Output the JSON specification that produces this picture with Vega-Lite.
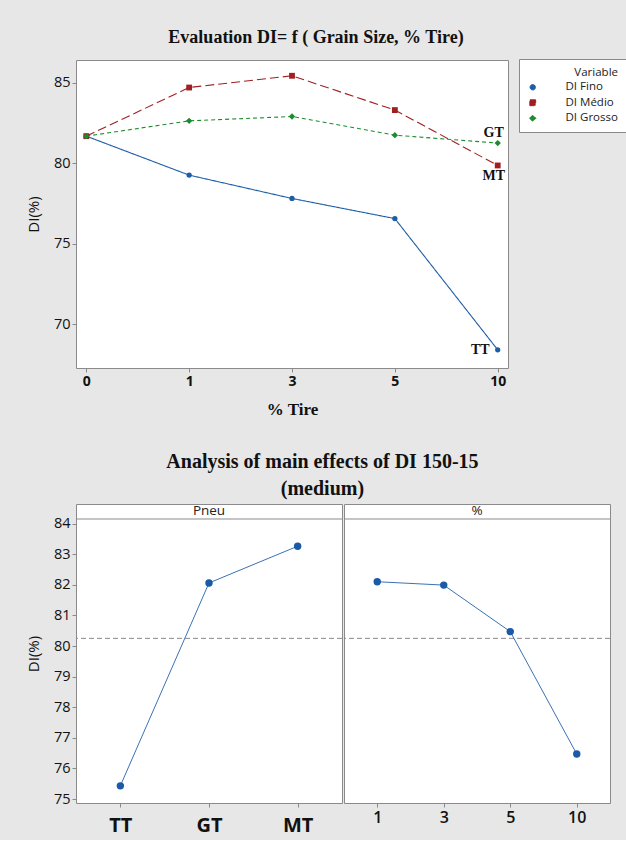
{
  "$schema": "https://vega.github.io/schema/vega-lite/v6.json",
  "background": "#e7e7e7",
  "padding": {"left": 25, "top": 28, "right": 3, "bottom": 4},
  "spacing": 33,
  "config": {
    "view": {"stroke": "#8a8a8a", "fill": "white"},
    "axis": {"grid": false, "domain": false, "tickColor": "#8a8a8a", "tickSize": 4, "labelColor": "#111", "titleColor": "#111", "labelFont": "Open Sans", "titleFont": "Open Sans", "labelOverlap": false}
  },
  "vconcat": [
    {
      "title": {"text": "Evaluation DI= f ( Grain Size, % Tire)", "font": "Liberation Serif", "fontSize": 18, "fontWeight": "bold", "frame": "group", "anchor": "middle", "dx": 24, "offset": 13, "color": "#111"},
      "width": 432,
      "height": 308,
      "data": {"values": [
        {"pct": 0, "Variable": "DI Fino", "DI": 81.67},
        {"pct": 1, "Variable": "DI Fino", "DI": 79.25},
        {"pct": 3, "Variable": "DI Fino", "DI": 77.8},
        {"pct": 5, "Variable": "DI Fino", "DI": 76.55},
        {"pct": 10, "Variable": "DI Fino", "DI": 68.4},
        {"pct": 0, "Variable": "DI Médio", "DI": 81.67},
        {"pct": 1, "Variable": "DI Médio", "DI": 84.69},
        {"pct": 3, "Variable": "DI Médio", "DI": 85.42},
        {"pct": 5, "Variable": "DI Médio", "DI": 83.29},
        {"pct": 10, "Variable": "DI Médio", "DI": 79.85},
        {"pct": 0, "Variable": "DI Grosso", "DI": 81.67},
        {"pct": 1, "Variable": "DI Grosso", "DI": 82.62},
        {"pct": 3, "Variable": "DI Grosso", "DI": 82.89},
        {"pct": 5, "Variable": "DI Grosso", "DI": 81.73},
        {"pct": 10, "Variable": "DI Grosso", "DI": 81.24}
      ]},
      "encoding": {
        "x": {"field": "pct", "type": "ordinal", "scale": {"type": "point", "padding": 0.1}, "axis": {"title": "% Tire", "labelAngle": 0, "labelFontSize": 14, "labelFontWeight": "bold", "labelPadding": 2, "titleFont": "Liberation Serif", "titleFontSize": 17, "titleFontWeight": "bold", "titlePadding": 13}},
        "y": {"field": "DI", "type": "quantitative", "scale": {"domain": [67.27, 86.4], "nice": false, "zero": false}, "axis": {"title": "DI(%)", "values": [70, 75, 80, 85], "labelFontSize": 14.5, "labelPadding": 2, "titleFontSize": 15, "titleFontWeight": "normal", "titlePadding": 12}}
      },
      "layer": [
        {
          "mark": {"type": "line", "strokeWidth": 1.1},
          "encoding": {
            "color": {"field": "Variable", "type": "nominal", "scale": {"domain": ["DI Fino", "DI Médio", "DI Grosso"], "range": ["#1d5ea8", "#a01f23", "#1c8c2f"]},
              "legend": {
                "title": "Variable", "orient": "none", "legendX": 443, "legendY": -1, "padding": 8,
                "strokeColor": "#8a8a8a", "fillColor": "white",
                "titleFont": "Open Sans", "titleFontSize": 11.5, "titleFontWeight": "normal", "titleColor": "#222", "titlePadding": 3, "titleAnchor": "end",
                "labelFont": "Open Sans", "labelFontSize": 11.5, "labelColor": "#222", "labelOffset": 27,
                "symbolSize": 50, "symbolStrokeWidth": 1, "rowPadding": 2.5
              }
            },
            "strokeDash": {"field": "Variable", "type": "nominal", "scale": {"domain": ["DI Fino", "DI Médio", "DI Grosso"], "range": [[1, 0], [9, 4], [4, 3]]}, "legend": null}
          }
        },
        {
          "mark": {"type": "point", "filled": true, "opacity": 1},
          "encoding": {
            "color": {"field": "Variable", "type": "nominal", "scale": {"domain": ["DI Fino", "DI Médio", "DI Grosso"], "range": ["#1d5ea8", "#a01f23", "#1c8c2f"]}, "legend": null},
            "shape": {"field": "Variable", "type": "nominal", "scale": {"domain": ["DI Fino", "DI Médio", "DI Grosso"], "range": ["circle", "square", "diamond"]}, "legend": null},
            "size": {"field": "Variable", "type": "nominal", "scale": {"domain": ["DI Fino", "DI Médio", "DI Grosso"], "range": [28, 40, 55]}, "legend": null}
          }
        },
        {
          "transform": [{"filter": "datum.pct === 10 && datum.Variable === 'DI Grosso'"}],
          "mark": {"type": "text", "font": "Liberation Serif", "fontSize": 14, "fontWeight": "bold", "color": "#111", "baseline": "middle", "align": "center", "dx": -4, "dy": -10},
          "encoding": {"text": {"value": "GT"}}
        },
        {
          "transform": [{"filter": "datum.pct === 10 && datum.Variable === 'DI Médio'"}],
          "mark": {"type": "text", "font": "Liberation Serif", "fontSize": 14, "fontWeight": "bold", "color": "#111", "baseline": "middle", "align": "center", "dx": -4, "dy": 11},
          "encoding": {"text": {"value": "MT"}}
        },
        {
          "transform": [{"filter": "datum.pct === 10 && datum.Variable === 'DI Fino'"}],
          "mark": {"type": "text", "font": "Liberation Serif", "fontSize": 14, "fontWeight": "bold", "color": "#111", "baseline": "middle", "align": "right", "dx": -8, "dy": 0},
          "encoding": {"text": {"value": "TT"}}
        }
      ]
    },
    {
      "title": {"text": ["Analysis of main effects of DI 150-15", "(medium)"], "font": "Liberation Serif", "fontSize": 20, "fontWeight": "bold", "lineHeight": 27, "anchor": "middle", "dx": 4, "offset": 5, "color": "#111"},
      "spacing": 0,
      "hconcat": [
        {
          "width": 266,
          "height": 299,
          "layer": [
            {"data": {"values": [{}]}, "mark": {"type": "rule", "color": "#8a8a8a", "strokeWidth": 1},
             "encoding": {"y": {"datum": 84.15, "type": "quantitative", "scale": {"domain": [74.87, 84.64], "nice": false, "zero": false}, "axis": {"title": "DI(%)", "values": [75, 76, 77, 78, 79, 80, 81, 82, 83, 84], "labelFontSize": 14.5, "labelPadding": 2, "titleFontSize": 15, "titleFontWeight": "normal", "titlePadding": 12, "labelOverlap": false}}}},
            {"data": {"values": [{}]}, "mark": {"type": "text", "font": "Open Sans", "fontSize": 13.5, "color": "#222", "baseline": "middle"},
             "encoding": {"y": {"datum": 84.4, "type": "quantitative", "axis": {"title": "DI(%)", "values": [75, 76, 77, 78, 79, 80, 81, 82, 83, 84], "labelFontSize": 14.5, "labelPadding": 2, "titleFontSize": 15, "titleFontWeight": "normal", "titlePadding": 12, "labelOverlap": false}}, "text": {"value": "Pneu"}}},
            {"data": {"values": [{}]}, "mark": {"type": "rule", "color": "#8a8a8a", "strokeWidth": 1, "strokeDash": [5, 3]},
             "encoding": {"y": {"datum": 80.25, "type": "quantitative", "axis": {"title": "DI(%)", "values": [75, 76, 77, 78, 79, 80, 81, 82, 83, 84], "labelFontSize": 14.5, "labelPadding": 2, "titleFontSize": 15, "titleFontWeight": "normal", "titlePadding": 12, "labelOverlap": false}}}},
            {"data": {"values": [{"Pneu": "TT", "DI": 75.43}, {"Pneu": "GT", "DI": 82.06}, {"Pneu": "MT", "DI": 83.26}]},
             "mark": {"type": "line", "color": "#3a72b5", "strokeWidth": 1},
             "encoding": {
               "x": {"field": "Pneu", "type": "nominal", "sort": ["TT", "GT", "MT"], "scale": {"type": "point", "padding": 0.5}, "axis": {"title": null, "labelAngle": 0, "labelFontSize": 20, "labelFontWeight": "bold", "labelPadding": 8}},
               "y": {"field": "DI", "type": "quantitative", "axis": {"title": "DI(%)", "values": [75, 76, 77, 78, 79, 80, 81, 82, 83, 84], "labelFontSize": 14.5, "labelPadding": 2, "titleFontSize": 15, "titleFontWeight": "normal", "titlePadding": 12, "labelOverlap": false}}
             }},
            {"data": {"values": [{"Pneu": "TT", "DI": 75.43}, {"Pneu": "GT", "DI": 82.06}, {"Pneu": "MT", "DI": 83.26}]},
             "mark": {"type": "point", "filled": true, "color": "#1a5aa6", "size": 55, "opacity": 1},
             "encoding": {
               "x": {"field": "Pneu", "type": "nominal", "sort": ["TT", "GT", "MT"]},
               "y": {"field": "DI", "type": "quantitative", "axis": {"title": "DI(%)", "values": [75, 76, 77, 78, 79, 80, 81, 82, 83, 84], "labelFontSize": 14.5, "labelPadding": 2, "titleFontSize": 15, "titleFontWeight": "normal", "titlePadding": 12, "labelOverlap": false}}
             }}
          ]
        },
        {
          "width": 266,
          "height": 299,
          "layer": [
            {"data": {"values": [{}]}, "mark": {"type": "rule", "color": "#8a8a8a", "strokeWidth": 1},
             "encoding": {"y": {"datum": 84.15, "type": "quantitative", "scale": {"domain": [74.87, 84.64], "nice": false, "zero": false}, "axis": null}}},
            {"data": {"values": [{}]}, "mark": {"type": "text", "font": "Open Sans", "fontSize": 13.5, "color": "#222", "baseline": "middle"},
             "encoding": {"y": {"datum": 84.4, "type": "quantitative", "axis": null}, "text": {"value": "%"}}},
            {"data": {"values": [{}]}, "mark": {"type": "rule", "color": "#8a8a8a", "strokeWidth": 1, "strokeDash": [5, 3]},
             "encoding": {"y": {"datum": 80.25, "type": "quantitative", "axis": null}}},
            {"data": {"values": [{"pct": 1, "DI": 82.1}, {"pct": 3, "DI": 81.99}, {"pct": 5, "DI": 80.47}, {"pct": 10, "DI": 76.47}]},
             "mark": {"type": "line", "color": "#3a72b5", "strokeWidth": 1},
             "encoding": {
               "x": {"field": "pct", "type": "ordinal", "scale": {"type": "point", "padding": 0.5}, "axis": {"title": null, "labelAngle": 0, "labelFontSize": 16, "labelFontWeight": 600, "labelPadding": 2}},
               "y": {"field": "DI", "type": "quantitative", "axis": null}
             }},
            {"data": {"values": [{"pct": 1, "DI": 82.1}, {"pct": 3, "DI": 81.99}, {"pct": 5, "DI": 80.47}, {"pct": 10, "DI": 76.47}]},
             "mark": {"type": "point", "filled": true, "color": "#1a5aa6", "size": 55, "opacity": 1},
             "encoding": {
               "x": {"field": "pct", "type": "ordinal"},
               "y": {"field": "DI", "type": "quantitative", "axis": null}
             }}
          ]
        }
      ]
    }
  ]
}
